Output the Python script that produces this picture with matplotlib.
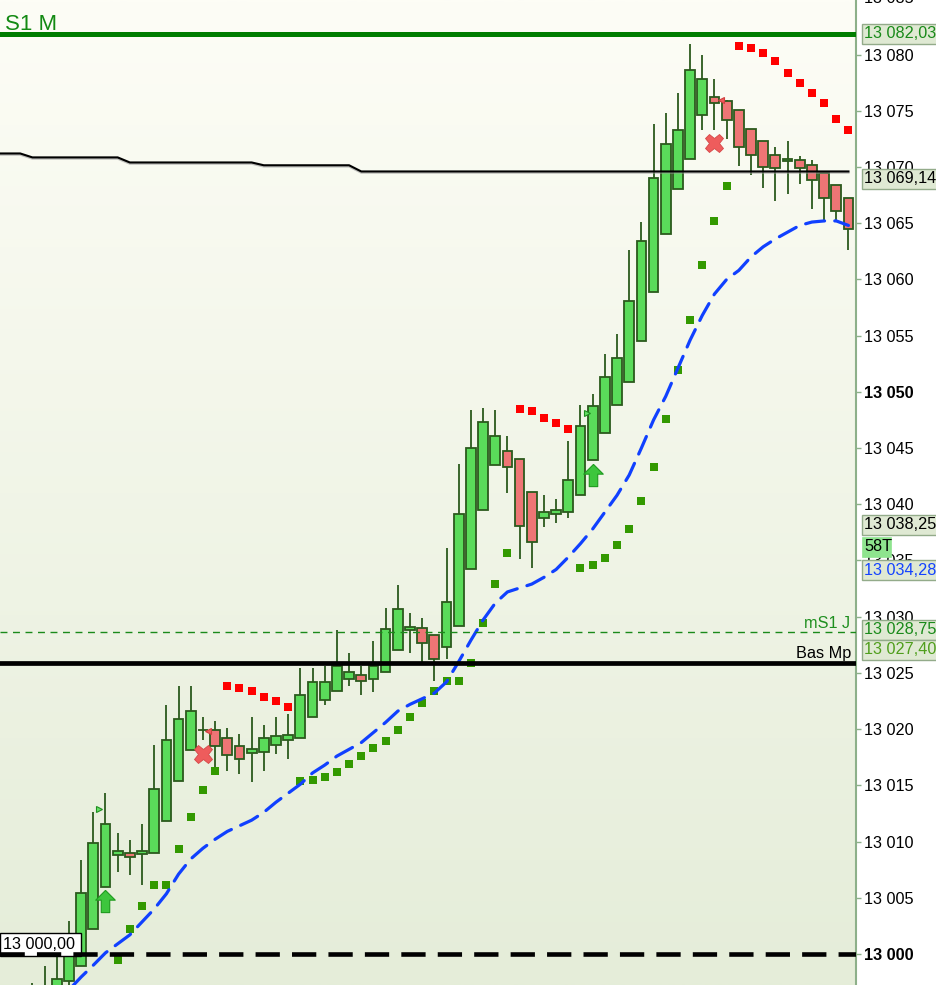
import numpy as np
import matplotlib.pyplot as plt
from matplotlib.patches import Rectangle
from matplotlib.path import Path
from matplotlib.transforms import ScaledTranslation

plt.rcParams['font.family'] = ['Liberation Sans', 'DejaVu Sans']

# candles, one per bar (index 0 is the first bar, below the visible range)
opens = [12994.0, 12995.5, 12995.2, 12996.2, 12996.5, 12997.6, 12998.9, 13002.2, 13006.0, 13008.8,
         13009.0, 13008.9, 13009.0, 13011.8, 13015.4, 13018.1, 13019.9, 13019.9, 13019.2, 13018.5,
         13017.9, 13018.0, 13018.6, 13019.0, 13019.2, 13021.1, 13022.6, 13023.4, 13024.5, 13024.8,
         13024.5, 13025.1, 13027.0, 13028.8, 13029.0, 13028.4, 13027.3, 13029.2, 13034.2, 13039.5,
         13043.5, 13044.7, 13044.0, 13041.1, 13038.8, 13039.1, 13039.3, 13040.8, 13043.9, 13046.3,
         13048.8, 13050.9, 13054.5, 13058.9, 13064.0, 13068.0, 13070.7, 13074.6, 13076.2, 13075.9,
         13075.1, 13073.4, 13072.3, 13071.1, 13070.5, 13070.6, 13070.2, 13069.5, 13068.4, 13067.2]
closes = [12995.5, 12994.8, 12996.4, 12997.0, 12997.8, 12999.8, 13005.4, 13009.9, 13011.6, 13009.2,
          13008.6, 13009.2, 13014.7, 13019.0, 13020.9, 13021.6, 13019.9, 13018.5, 13017.7, 13017.3,
          13018.2, 13019.2, 13019.4, 13019.5, 13023.0, 13024.2, 13024.2, 13025.6, 13025.1, 13024.3,
          13025.6, 13028.9, 13030.7, 13029.1, 13027.7, 13026.2, 13031.3, 13039.1, 13045.0, 13047.3,
          13046.1, 13043.3, 13038.1, 13036.6, 13039.3, 13039.5, 13042.2, 13047.0, 13048.7, 13051.3,
          13053.0, 13058.1, 13063.4, 13069.0, 13072.0, 13073.3, 13078.6, 13077.8, 13075.7, 13074.2,
          13071.8, 13071.1, 13070.0, 13069.9, 13070.7, 13069.9, 13068.8, 13067.2, 13066.1, 13064.5]
highs = [12996.2, 12996.6, 12997.4, 12998.9, 12999.7, 13002.9, 13008.4, 13012.6, 13014.3, 13010.8,
         13010.1, 13011.6, 13018.6, 13022.1, 13023.8, 13023.8, 13021.1, 13020.7, 13020.1, 13019.6,
         13021.1, 13020.4, 13021.1, 13021.3, 13025.4, 13025.4, 13025.6, 13028.8, 13026.8, 13025.6,
         13027.8, 13030.8, 13032.8, 13030.3, 13029.9, 13028.4, 13036.1, 13043.6, 13048.4, 13048.6,
         13048.4, 13046.1, 13044.0, 13041.1, 13040.8, 13040.5, 13045.6, 13048.8, 13049.8, 13053.4,
         13055.1, 13062.6, 13065.1, 13073.8, 13074.8, 13076.6, 13080.9, 13080.0, 13077.8, 13076.0,
         13075.1, 13073.4, 13072.3, 13071.8, 13072.3, 13071.0, 13070.6, 13069.5, 13068.4, 13067.2]
lows = [12993.5, 12994.0, 12994.8, 12995.8, 12996.0, 12997.2, 12998.9, 13002.2, 13006.0, 13007.3,
        13007.0, 13006.1, 13009.0, 13011.8, 13015.4, 13018.1, 13019.0, 13016.6, 13016.3, 13016.0,
        13015.3, 13016.3, 13017.8, 13017.3, 13019.2, 13021.1, 13022.1, 13023.4, 13023.8, 13023.0,
        13023.3, 13025.1, 13027.0, 13026.8, 13026.0, 13024.3, 13026.2, 13029.2, 13034.2, 13039.5,
        13043.5, 13041.0, 13035.1, 13034.3, 13038.0, 13038.3, 13038.8, 13040.8, 13043.9, 13046.3,
        13048.8, 13050.9, 13054.5, 13058.9, 13064.0, 13068.0, 13070.7, 13073.3, 13073.3, 13072.5,
        13070.1, 13069.3, 13068.1, 13067.0, 13067.6, 13068.5, 13066.3, 13065.1, 13065.3, 13062.6]

# parabolic SAR dots
sar_up_x = [9, 10, 11, 12, 13, 14, 15, 16, 17,
            24, 25, 26, 27, 28, 29, 30, 31, 32, 33, 34, 35, 36, 37, 38, 39, 40, 41,
            47, 48, 49, 50, 51, 52, 53, 54, 55, 56, 57, 58, 59]
sar_up_y = [12999.5, 13002.2, 13004.3, 13006.1, 13006.1, 13009.3, 13012.2, 13014.6, 13016.3,
            13015.4, 13015.5, 13015.7, 13016.2, 13016.9, 13017.6, 13018.3, 13018.9, 13019.9, 13021.1,
            13022.3, 13023.4, 13024.3, 13024.3, 13025.9, 13029.4, 13032.9, 13035.7,
            13034.3, 13034.6, 13035.2, 13036.4, 13037.8, 13040.3, 13043.3, 13047.6, 13051.9, 13056.4,
            13061.3, 13065.2, 13068.3]
sar_dn_x = [18, 19, 20, 21, 22, 23, 42, 43, 44, 45, 46, 60, 61, 62, 63, 64, 65, 66, 67, 68, 69]
sar_dn_y = [13023.8, 13023.7, 13023.4, 13022.9, 13022.5, 13022.0,
            13048.5, 13048.3, 13047.7, 13047.2, 13046.7,
            13080.8, 13080.6, 13080.1, 13079.4, 13078.4, 13077.5, 13076.6, 13075.7, 13074.3, 13073.3]

# blue moving average, from bar 5 on
ma_start = 5
ma_vals = [12996.8, 12997.95, 12999.0, 13000.1, 13000.9, 13001.7, 13002.85, 13004.0, 13005.35, 13007.1,
           13008.45, 13009.4, 13010.2, 13010.9, 13011.4, 13011.9, 13012.6, 13013.5, 13014.3, 13015.1,
           13016.1, 13016.8, 13017.6, 13018.2, 13018.8, 13019.7, 13020.6, 13021.6, 13022.2, 13022.7,
           13023.2, 13024.2, 13026.0, 13027.9, 13029.7, 13031.2, 13032.2, 13032.55, 13032.9, 13033.5,
           13034.2, 13035.3, 13036.5, 13037.8, 13039.3, 13040.8, 13042.6, 13045.0, 13047.5, 13049.6,
           13052.1, 13054.6, 13056.8, 13058.7, 13060.0, 13060.8, 13062.0, 13062.9, 13063.6, 13064.2,
           13064.8, 13065.1, 13065.2, 13065.2, 13064.8]

# black stepped level
pivot_vals = [13071.2] * 2 + [13070.85] * 8 + [13070.4] * 11 + [13070.15] * 8 + [13069.6] * 41

# horizontal levels
s1m_level = 13081.85
ms1j_level = 13028.61
basmp_level = 13025.86
round_level = 13000.0

# signals (bar position, price)
buy_arrows = [(8, 13004.7), (48, 13042.6)]
sell_crosses = [(16, 13017.8), (58, 13072.1)]
up_flags = [(7.47, 13012.9), (47.54, 13048.1)]
down_flags = [(16.45, 13019.8), (58.56, 13076.0)]

# right-hand price boxes: (price position, text, text colour)
price_boxes = [
    (s1m_level, '13 082,03', '#1a8a1a'),
    (13068.95, '13 069,14', 'black'),
    (13038.16, '13 038,25', 'black'),
    (13034.15, '13 034,28', '#1443ff'),
    (13028.82, '13 028,75', '#1a8a1a'),
    (13027.04, '13 027,40', '#4f9e1c'),
]

W, H = 937, 985
AXW = 856
fig = plt.figure(figsize=(W / 100, H / 100), dpi=100, facecolor='white')
ax = fig.add_axes([0, 0, AXW / W, 1])
xlim = (-0.66, 69.62)
ylim = (12997.24, 13084.85)
ppu = H / (ylim[1] - ylim[0])  # pixels per price unit

# background gradient
g = np.linspace(0, 1, 256)[:, None, None]
top = np.array([253, 253, 246]) / 255
bot = np.array([229, 237, 217]) / 255
ax.imshow(bot + (top - bot) * g, extent=[xlim[0], xlim[1], ylim[0], ylim[1]],
          aspect='auto', origin='lower', zorder=0, interpolation='bilinear')

o = np.array(opens)
c = np.array(closes)
hi = np.array(highs)
lo = np.array(lows)
x = np.arange(len(o))
up = c >= o
bb = np.minimum(o, c)
bh = np.maximum(np.abs(c - o), 0.05)

ax.vlines(x, lo, hi, color='#2b5a1d', lw=1.3, zorder=2)
ax.bar(x[up], bh[up], bottom=bb[up], width=0.8, color='#5adb5a', edgecolor='#2b5a1d', lw=1.3, zorder=3)
ax.bar(x[~up], bh[~up], bottom=bb[~up], width=0.8, color='#ee7575', edgecolor='#2b5a1d', lw=1.3, zorder=3)

ax.scatter(sar_up_x, sar_up_y, marker='s', s=28, c='#339900', linewidths=0, zorder=4)
ax.scatter(sar_dn_x, sar_dn_y, marker='s', s=28, c='#ff0000', linewidths=0, zorder=4)

ax.plot(np.arange(ma_start, ma_start + len(ma_vals)), ma_vals, color='#1040ff', lw=2.3,
        dashes=(6, 3.2), dash_capstyle='round', zorder=4.5)

# the level line runs in from the left edge of the chart
px = np.r_[xlim[0], x]
pv = np.r_[pivot_vals[0], pivot_vals]
shadow = ax.transData + ScaledTranslation(0, -1.2 / 100, fig.dpi_scale_trans)
ax.plot(px, pv, color='#999999', lw=1.6, zorder=4.8, alpha=0.6, transform=shadow)
ax.plot(px, pv, color='black', lw=1.5, zorder=4.9)

ax.axhline(s1m_level, color='#007d00', lw=3.6, zorder=5)
ax.axhline(ms1j_level, color='#1a8a1a', lw=1.0, dashes=(5, 4), zorder=5)
ax.axhline(basmp_level, color='black', lw=3.4, zorder=5)

# left price box
ax.add_patch(Rectangle((0, round_level - 0.18), 80.7 / AXW, 23 / ppu, transform=ax.get_yaxis_transform(),
                       facecolor='white', edgecolor='black', lw=1, zorder=5.5, clip_on=False))
ax.text(3 / AXW, round_level + 0.85, '13 000,00', transform=ax.get_yaxis_transform(),
        fontsize=11.7, va='center', ha='left', color='black', zorder=5.6)
ax.axhline(round_level, color='black', lw=3.3, dashes=(5.3, 2.65), zorder=6)

# signals
arrow = Path([(0, 1), (0.88, 0.12), (0.38, 0.12), (0.38, -1), (-0.38, -1), (-0.38, 0.12), (-0.88, 0.12), (0, 1)])
for bx, by in buy_arrows:
    ax.plot(bx, by, marker=arrow, markersize=16, markerfacecolor='#3dc63d', markeredgecolor='#1e9a1e',
            markeredgewidth=0.8, zorder=6)
for sx, sy in sell_crosses:
    ax.plot(sx, sy, marker='X', markersize=13, markerfacecolor='#ee5c5c', markeredgecolor='#d54646',
            markeredgewidth=0.6, zorder=6)
for fx, fy in up_flags:
    ax.plot(fx, fy, marker='>', markersize=5, markerfacecolor='#66e066', markeredgecolor='#1f8f1f',
            markeredgewidth=0.8, zorder=6)
for fx, fy in down_flags:
    ax.plot(fx, fy, marker='<', markersize=5, markerfacecolor='#ee5c5c', markeredgecolor='#d04040',
            markeredgewidth=0.8, zorder=6)

# labels on the chart
ax.text(5 / AXW, 13082.18, 'S1 M', transform=ax.get_yaxis_transform(), fontsize=16,
        color='#138a13', va='baseline', ha='left', zorder=6)
ax.text(850 / AXW, 13028.97, 'mS1 J', transform=ax.get_yaxis_transform(), fontsize=11.7,
        color='#1f8f1f', va='baseline', ha='right', zorder=6)
ax.text(851 / AXW, 13026.33, 'Bas Mp', transform=ax.get_yaxis_transform(), fontsize=11.7,
        color='black', va='baseline', ha='right', zorder=6)

ax.set_xlim(*xlim)
ax.set_ylim(*ylim)
ax.set_xticks([])

# price axis
ticks = np.arange(13000, 13085, 5)
ax.yaxis.tick_right()
ax.set_yticks(ticks)
ax.set_yticklabels([f'{t // 1000} {t % 1000:03d}' for t in ticks])
for lab, t in zip(ax.get_yticklabels(), ticks):
    if t in (13000, 13050):
        lab.set_fontweight('bold')
ax.tick_params(axis='y', direction='out', length=3.6, width=1, color='#8db08a',
               labelsize=11.7, labelcolor='black', pad=2)
for s in ['top', 'left', 'bottom']:
    ax.spines[s].set_visible(False)
ax.spines['right'].set_color('#8db08a')
ax.spines['right'].set_linewidth(1.5)
ax.text(864 / AXW, 13085, '13 085', transform=ax.get_yaxis_transform(), fontsize=11.7,
        va='center', ha='left', clip_on=False)

yt = ax.get_yaxis_transform()
for py, txt, tc in price_boxes:
    ax.add_patch(Rectangle((861.7 / AXW, py - 10 / ppu), 90 / AXW, 20 / ppu, transform=yt,
                           facecolor='#dfe9d3', edgecolor='#93ab8a', lw=1, zorder=7, clip_on=False))
    ax.text(864 / AXW, py, txt, transform=yt, fontsize=11.7, color=tc, va='center', ha='left',
            zorder=7.5, clip_on=False)

# bar counter box
ax.add_patch(Rectangle((861.7 / AXW, 13036.2 - 10 / ppu), 29.3 / AXW, 20 / ppu, transform=yt,
                       facecolor='#8ee48e', edgecolor='#8ee48e', lw=0.5, zorder=7, clip_on=False))
ax.text(864 / AXW, 13036.2, '58T', transform=yt, fontsize=11.7, color='black', va='center',
        ha='left', zorder=7.5, clip_on=False)

fig.savefig('out.png', dpi=100, facecolor='white')
